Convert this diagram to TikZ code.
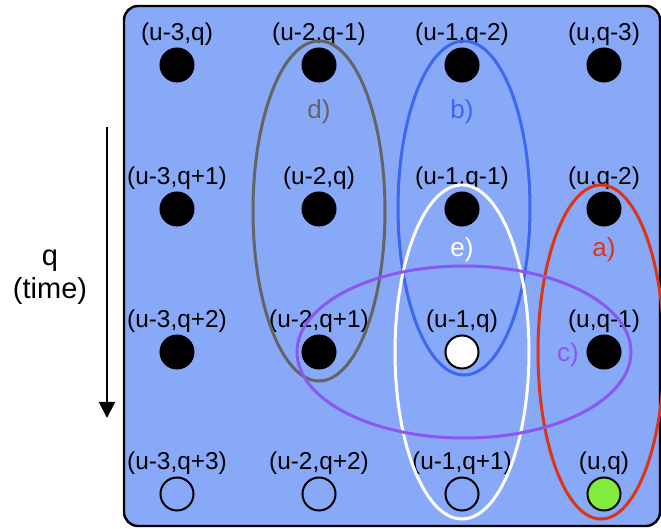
\documentclass[tikz,border=0pt]{standalone}
\usepackage{fontspec}
\setmainfont{Liberation Sans}
\usetikzlibrary{arrows.meta,positioning}

\definecolor{panelblue}{RGB}{136,168,248}
\definecolor{ringgray}{RGB}{100,100,100}
\definecolor{ringblue}{RGB}{62,102,240}
\definecolor{ringred}{RGB}{222,52,22}
\definecolor{ringpurple}{RGB}{138,88,240}
\definecolor{dotgreen}{RGB}{130,236,62}

\begin{document}
\begin{tikzpicture}[x=0.5pt,y=-0.5pt,
  every node/.style={font=\fontsize{12.2}{14}\selectfont},
  dot/.style={circle,draw=black,line width=1pt,minimum size=16.5pt,inner sep=0pt},
  full/.style={dot,fill=black},
  hollow/.style={dot},
  current/.style={dot,fill=white},
  target/.style={dot,fill=dotgreen},
  ring/.style={line width=1.5pt},
  tag/.style={font=\fontsize{13}{15}\selectfont}]
\useasboundingbox (0,0) rectangle (661,529);
\draw[fill=panelblue,line width=1.2pt,rounded corners=7pt] (124,6) rectangle (660,526);
% grid of (u,q) cells
\foreach \name/\x/\y/\sty/\txt in {
  a1/177/65/full/{(u-3,q)},    b1/319/65/full/{(u-2,q-1)},
  c1/462/65/full/{(u-1,q-2)},  d1/604/65/full/{(u,q-3)},
  a2/177/209/full/{(u-3,q+1)}, b2/319/209/full/{(u-2,q)},
  c2/462/209/full/{(u-1,q-1)}, d2/604/209/full/{(u,q-2)},
  a3/177/352/full/{(u-3,q+2)}, b3/319/352/full/{(u-2,q+1)},
  c3/462/352/current/{(u-1,q)}, d3/604/352/full/{(u,q-1)},
  a4/177/494/hollow/{(u-3,q+3)}, b4/319/494/hollow/{(u-2,q+2)},
  c4/462/494/hollow/{(u-1,q+1)}, d4/604/494/target/{(u,q)}}
{
  \node[\sty] (\name) at (\x,\y) {};
  \node (t-\name) at (\x,\y-31) {\txt};
}
% groupings
\draw[ring,ringgray] (319,211) ellipse [x radius=66,y radius=170];
\node[tag,text=ringgray] (lab-d) at (319,112) {d)};
\draw[ring,ringblue] (464,208) ellipse [x radius=66,y radius=167];
\node[tag,text=ringblue] (lab-b) at (462,112) {b)};
\draw[ring,white] (462,352) ellipse [x radius=67,y radius=167];
\node[tag,text=white] (lab-e) at (462,250) {e)};
\draw[ring,ringred] (601,352) ellipse [x radius=63,y radius=167];
\node[tag,text=ringred] (lab-a) at (604,250) {a)};
\draw[ring,ringpurple] (464,352) ellipse [x radius=167,y radius=86];
\node[tag,text=ringpurple] (lab-c) at (568,355) {c)};
% time axis
\node[align=center,font=\fontsize{14.5}{16.5}\selectfont] (time) at (50,277) {q\\(time)};
\coordinate (tstart) at (107,127);
\coordinate (tend) at (107,418);
\draw[line width=1pt,-{Triangle[length=8pt,width=8pt]}] (tstart) -- (tend);
\end{tikzpicture}
\end{document}
